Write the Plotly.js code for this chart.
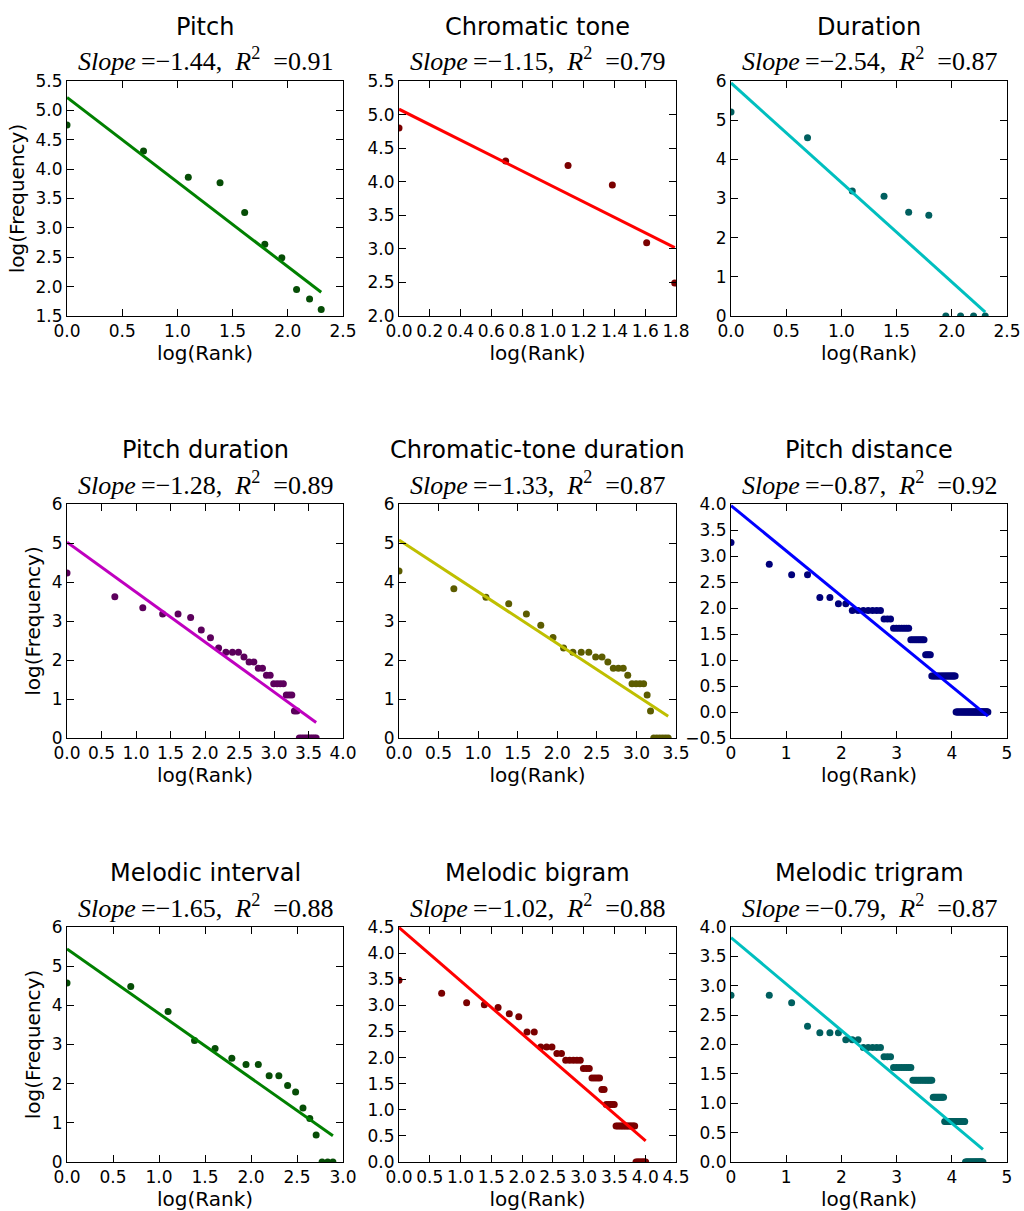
<!DOCTYPE html>
<html><head><meta charset="utf-8">
<script src="https://cdn.plot.ly/plotly-3.0.1.min.js"></script>
<style>html,body{margin:0;padding:0;background:#fff}#chart{width:1024px;height:1211px}</style>
</head><body><div id="chart"></div>
<script>
// ---- data: log(Frequency) of each rank (rank 1, 2, 3, ...) ----
const pitchY = [4.75, 4.31, 3.86, 3.77, 3.26, 2.72, 2.49, 1.95, 1.79, 1.61];
const chromaticToneY = [4.80, 4.31, 4.24, 3.95, 3.09, 2.49];
const durationY = [5.21, 4.55, 3.19, 3.06, 2.65, 2.57, 0, 0, 0, 0];
const pitchDurationY = [4.23, 3.62, 3.34, 3.18, 3.18, 3.09, 2.77, 2.57, 2.31, 2.20,
  2.20, 2.20, 2.08, 1.95, 1.95, 1.79, 1.79, 1.61, 1.61, 1.39,
  1.39, 1.39, 1.39, 1.10, 1.10, 1.10, 0.69, 0.69, 0, 0,
  0, 0, 0, 0, 0, 0, 0];
const chromaticToneDurationY = [4.28, 3.83, 3.61, 3.44, 3.18, 2.89, 2.58, 2.31, 2.20, 2.20,
  2.20, 2.08, 2.08, 1.95, 1.79, 1.79, 1.79, 1.61, 1.39, 1.39,
  1.39, 1.39, 1.10, 0.69, 0, 0, 0, 0, 0, 0];
const pitchDistanceY = [3.26, 2.84, 2.64, 2.64, 2.20, 2.20, 2.08, 2.08,
  1.95, 1.95, 1.95, 1.95, 1.95, 1.95, 1.95,
  1.79, 1.79, 1.79,
  1.61, 1.61, 1.61, 1.61, 1.61, 1.61, 1.61,
  1.39, 1.39, 1.39, 1.39, 1.39, 1.39, 1.39, 1.39,
  1.10, 1.10, 1.10, 1.10,
  0.69, 0.69, 0.69, 0.69, 0.69, 0.69, 0.69, 0.69, 0.69, 0.69,
  0.69, 0.69, 0.69, 0.69, 0.69, 0.69, 0.69, 0.69, 0.69, 0.69, 0.69,
  0, 0, 0, 0, 0, 0, 0, 0, 0, 0,
  0, 0, 0, 0, 0, 0, 0, 0, 0, 0,
  0, 0, 0, 0, 0, 0, 0, 0, 0, 0,
  0, 0, 0, 0, 0, 0, 0, 0, 0, 0,
  0, 0, 0, 0, 0, 0, 0];
const melodicIntervalY = [4.57, 4.48, 3.84, 3.10, 2.90, 2.65, 2.49, 2.49, 2.20, 2.20,
  1.95, 1.79, 1.38, 1.11, 0.69, 0, 0, 0];
const melodicBigramY = [3.48, 3.23, 3.05, 3.01, 2.96, 2.84, 2.78, 2.49, 2.49,
  2.20, 2.20, 2.20,
  2.08, 2.08,
  1.95, 1.95, 1.95, 1.95, 1.95,
  1.79, 1.79, 1.79,
  1.61, 1.61, 1.61, 1.61,
  1.39, 1.39,
  1.10, 1.10, 1.10, 1.10, 1.10,
  0.69, 0.69, 0.69, 0.69, 0.69, 0.69, 0.69, 0.69, 0.69, 0.69, 0.69, 0.69, 0.69,
  0, 0, 0, 0, 0, 0, 0, 0, 0];
const melodicTrigramY = [2.84, 2.84, 2.71, 2.31, 2.20, 2.20, 2.20, 2.08, 2.08, 2.08,
  1.95, 1.95, 1.95, 1.95, 1.95,
  1.79, 1.79, 1.79,
  1.61, 1.61, 1.61, 1.61, 1.61, 1.61, 1.61, 1.61,
  1.39, 1.39, 1.39, 1.39, 1.39, 1.39, 1.39, 1.39, 1.39, 1.39, 1.39, 1.39,
  1.10, 1.10, 1.10, 1.10, 1.10, 1.10, 1.10, 1.10, 1.10,
  0.69, 0.69, 0.69, 0.69, 0.69, 0.69, 0.69, 0.69, 0.69, 0.69, 0.69,
  0.69, 0.69, 0.69, 0.69, 0.69, 0.69, 0.69, 0.69, 0.69, 0.69, 0.69,
  0, 0, 0, 0, 0, 0, 0, 0, 0, 0,
  0, 0, 0, 0, 0, 0, 0, 0, 0, 0,
  0, 0, 0, 0, 0, 0, 0];

const titles = ["Pitch", "Chromatic tone", "Duration", "Pitch duration", "Chromatic-tone duration",
  "Pitch distance", "Melodic interval", "Melodic bigram", "Melodic trigram"];
const slopes = [-1.44, -1.15, -2.54, -1.28, -1.33, -0.87, -1.65, -1.02, -0.79];
const rSquared = [0.91, 0.79, 0.87, 0.89, 0.87, 0.92, 0.88, 0.88, 0.87];
const intercepts = [5.22, 5.08, 5.95, 5.02, 5.08, 3.97, 5.44, 4.49, 3.82];
const series = [pitchY, chromaticToneY, durationY, pitchDurationY, chromaticToneDurationY,
  pitchDistanceY, melodicIntervalY, melodicBigramY, melodicTrigramY];

// ---- styling ----
const lineColors = ["#008000", "#ff0000", "#00bfbf", "#bf00bf", "#bfbf00", "#0000ff", "#008000", "#ff0000", "#00bfbf"];
const markerColors = ["#064d06", "#7a0000", "#005f5f", "#5c005c", "#5c5c00", "#00007a", "#064d06", "#7a0000", "#005f5f"];
const xRanges = [[0, 2.5], [0, 1.8], [0, 2.5], [0, 4], [0, 3.5], [0, 5], [0, 3], [0, 4.5], [0, 5]];
const xDticks = [0.5, 0.2, 0.5, 0.5, 0.5, 1, 0.5, 0.5, 1];
const yRanges = [[1.5, 5.5], [2, 5.5], [0, 6], [0, 6], [0, 6], [-0.5, 4], [0, 6], [0, 4.5], [0, 4]];
const yDticks = [0.5, 0.5, 1, 1, 1, 0.5, 1, 0.5, 0.5];

const W = 1024, H = 1211;
const colPx = [[67, 343], [399, 676], [731, 1007]];
const rowPx = [[81, 316], [504, 738], [927, 1162]];
const titlePx = [27, 450, 873];
const subPx = [59, 483, 906];

const font = "DejaVu Sans, Arial, sans-serif";
const serif = "Liberation Serif, DejaVu Serif, serif";
const traces = [];
const layout = {
  width: W, height: H, margin: {l: 0, r: 0, t: 0, b: 0},
  paper_bgcolor: "#fff", plot_bgcolor: "#fff", showlegend: false,
  font: {family: font, color: "#000"},
  annotations: []
};

function fmt(v) { return (v < 0 ? "\u2212" : "") + Math.abs(v).toFixed(2); }

for (let i = 0; i < 9; i++) {
  const r = Math.floor(i / 3), c = i % 3;
  const n = i + 1;
  const xa = n === 1 ? "x" : "x" + n, ya = n === 1 ? "y" : "y" + n;
  const ys = series[i];
  const xs = ys.map((_, k) => Math.log(k + 1));
  const xmax = xs[xs.length - 1];
  traces.push({
    type: "scatter", mode: "markers", x: xs, y: ys, xaxis: xa, yaxis: ya,
    marker: {color: markerColors[i], size: 7, line: {width: 0}}, cliponaxis: true, hoverinfo: "skip"
  });
  traces.push({
    type: "scatter", mode: "lines", x: [0, xmax],
    y: [intercepts[i], intercepts[i] + slopes[i] * xmax], xaxis: xa, yaxis: ya,
    line: {color: lineColors[i], width: 3}, hoverinfo: "skip"
  });
  const axCommon = {
    showline: true, linecolor: "#000", linewidth: 1, mirror: "ticks",
    ticks: "inside", ticklen: 7, tickwidth: 1, tickcolor: "#000",
    showgrid: false, zeroline: false, tickangle: 0, fixedrange: true,
    tickfont: {family: font, size: 17, color: "#000"}
  };
  layout["xaxis" + (n === 1 ? "" : n)] = Object.assign({}, axCommon, {
    domain: [colPx[c][0] / W, colPx[c][1] / W], anchor: ya,
    range: xRanges[i], dtick: xDticks[i], tick0: 0,
    tickformat: xDticks[i] < 1 ? ".1f" : "d",
    title: {text: "log(Rank)", font: {family: font, size: 20, color: "#000"}, standoff: 3}
  });
  const yax = Object.assign({}, axCommon, {
    domain: [1 - rowPx[r][1] / H, 1 - rowPx[r][0] / H], anchor: xa,
    range: yRanges[i], dtick: yDticks[i], tick0: 0,
    tickformat: yDticks[i] < 1 ? ".1f" : "d"
  });
  if (c === 0) yax.title = {text: "log(Frequency)", font: {family: font, size: 20, color: "#000"}, standoff: 5};
  layout["yaxis" + (n === 1 ? "" : n)] = yax;
  const cx = (colPx[c][0] + colPx[c][1]) / 2 / W;
  layout.annotations.push({
    xref: "paper", yref: "paper", x: cx, y: 1 - titlePx[r] / H, xanchor: "center", yanchor: "middle",
    text: titles[i], showarrow: false, font: {family: font, size: 24, color: "#000"}
  });
  layout.annotations.push({
    xref: "paper", yref: "paper", x: cx, y: 1 - subPx[r] / H, xanchor: "center", yanchor: "middle",
    text: "<i>Slope</i>\u2009=" + fmt(slopes[i]) + ",\u00a0\u00a0<i>R</i><sup>2</sup>\u00a0\u00a0=" + rSquared[i].toFixed(2),
    showarrow: false, font: {family: serif, size: 26, color: "#000"}
  });
}

Plotly.newPlot("chart", traces, layout, {staticPlot: true, displayModeBar: false});
</script>
</body></html>
